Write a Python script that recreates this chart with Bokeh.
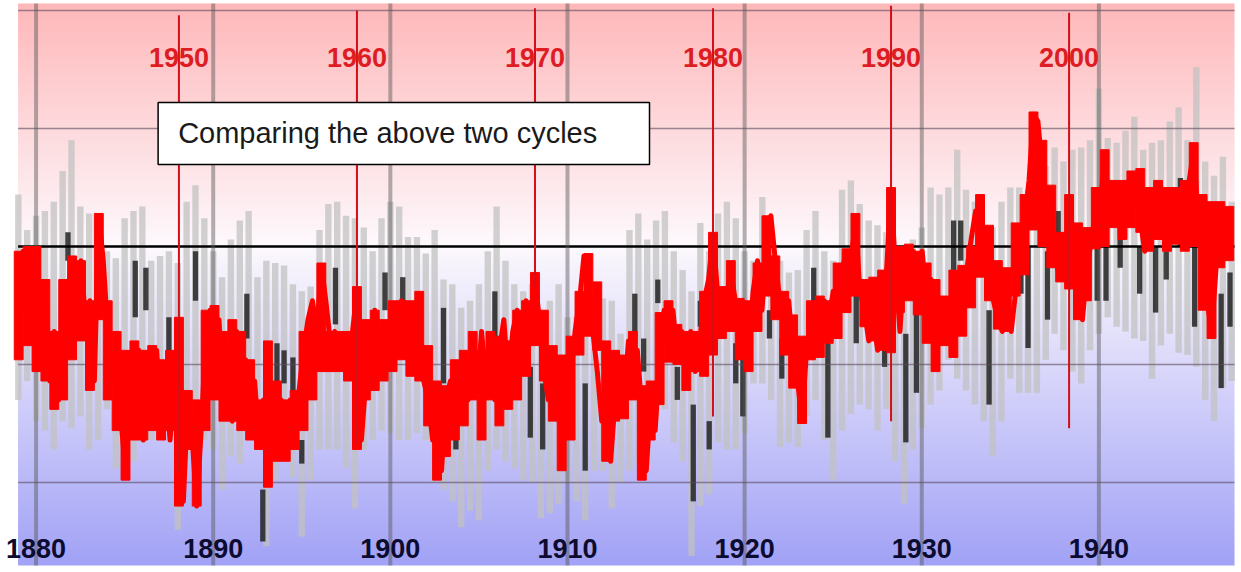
import numpy as np
from bokeh.plotting import figure
from bokeh.models import Range1d
from bokeh.embed import file_html
from bokeh.resources import INLINE
from bokeh.core.properties import value

# ---------------------------------------------------------------------------
# Data
# ---------------------------------------------------------------------------
# Earlier record (1879-1947), half-year steps: spread of the monthly values
gray_years = np.arange(1879.0, 1948.0, 0.5)
gray_hi = [
    0.22, 0.07, 0.13, 0.15, 0.19, 0.32, 0.45, 0.17, 0.14, 0.07,
    -0.02, -0.05, 0.12, 0.15, 0.17, -0.06, -0.04, -0.02, -0.07, 0.19,
    0.26, 0.12, -0.02, -0.13, 0.03, 0.11, 0.15, -0.13, -0.06, -0.07,
    -0.08, -0.16, -0.19, -0.17, 0.07, 0.18, 0.19, 0.13, 0.12, 0.08,
    -0.02, 0.12, 0.19, 0.17, 0.04, 0.04, -0.03, 0.07, -0.14, -0.16,
    -0.26, -0.23, -0.16, -0.02, 0.17, -0.06, -0.16, -0.19, -0.16, -0.30,
    -0.23, -0.16, -0.30, -0.30, -0.23, -0.20, -0.22, -0.23, -0.37, 0.07,
    0.14, 0.03, 0.11, 0.15, -0.02, -0.10, -0.19, 0.10, -0.02, 0.14,
    0.19, 0.12, -0.02, -0.06, 0.21, 0.07, -0.06, -0.11, -0.10, 0.07,
    0.15, -0.02, -0.06, 0.24, 0.28, 0.18, 0.11, 0.09, 0.06, -0.06,
    -0.13, 0.03, 0.08, 0.25, 0.22, 0.25, 0.41, 0.24, 0.19, 0.08,
    0.08, 0.19, 0.25, 0.25, 0.24, 0.19, 0.34, 0.42, 0.36, 0.41,
    0.42, 0.45, 0.67, 0.46, 0.44, 0.49, 0.55, 0.41, 0.44, 0.45,
    0.53, 0.59, 0.45, 0.76, 0.36, 0.30, 0.38, 0.19,
]
gray_lo = [
    -0.65, -0.57, -0.74, -0.78, -0.86, -0.74, -0.77, -0.72, -0.86, -0.82,
    -0.69, -0.94, -0.92, -0.91, -0.83, -0.82, -0.80, -0.75, -1.20, -0.91,
    -0.86, -0.82, -0.86, -1.03, -0.89, -0.92, -0.82, -0.81, -1.27, -0.99,
    -0.79, -0.98, -1.23, -0.99, -0.86, -0.86, -0.86, -0.94, -1.11, -0.86,
    -0.82, -0.78, -0.79, -0.82, -0.82, -0.79, -0.82, -1.00, -1.03, -1.08,
    -1.19, -1.12, -1.16, -0.95, -0.86, -0.91, -0.94, -0.99, -1.00, -1.15,
    -1.13, -1.09, -1.00, -1.08, -1.16, -0.95, -0.95, -1.11, -1.00, -0.95,
    -0.92, -0.91, -0.74, -0.69, -0.83, -0.91, -1.31, -1.10, -1.05, -0.83,
    -0.86, -0.86, -0.79, -0.58, -0.58, -0.65, -0.85, -0.83, -0.85, -0.72,
    -0.65, -0.82, -0.99, -0.78, -0.71, -0.67, -0.69, -0.78, -0.69, -0.91,
    -1.09, -0.86, -0.77, -0.67, -0.61, -0.48, -0.56, -0.61, -0.67, -0.74,
    -0.89, -0.74, -0.56, -0.62, -0.62, -0.62, -0.48, -0.37, -0.44, -0.53,
    -0.58, -0.44, -0.37, -0.30, -0.34, -0.36, -0.39, -0.40, -0.56, -0.42,
    -0.37, -0.45, -0.46, -0.51, -0.65, -0.74, -0.60, -0.57,
]

# Dense (darkest) stretches of the earlier record
dark_years = [
    1880.4, 1881.0, 1881.8, 1881.9, 1884.5, 1885.6, 1886.2, 1887.5, 1888.0,
    1889.0, 1891.9, 1892.8, 1893.6, 1894.0, 1894.5, 1895.0, 1896.9, 1899.7,
    1900.7, 1903.0, 1903.7, 1905.9, 1907.9, 1908.6, 1911.0, 1913.8, 1914.3,
    1915.1, 1916.2, 1917.1, 1917.5, 1918.0, 1919.5, 1919.9, 1921.4, 1922.1,
    1923.9, 1924.7, 1926.3, 1927.9, 1928.1, 1929.1, 1929.7, 1931.8, 1932.2,
    1933.8, 1935.6, 1936.0, 1937.1, 1937.7, 1939.9, 1940.4, 1941.2, 1942.3,
    1943.2, 1943.8, 1944.6, 1945.4, 1946.9, 1947.4,
]
dark_hi = [
    -0.19, -0.58, 0.06, -0.39, -0.36, -0.06, -0.09, -0.30, -0.37,
    -0.02, -0.20, -1.03, -0.41, -0.44, -0.47, -0.82, -0.09, -0.11,
    -0.13, -0.26, -0.77, -0.19, -0.51, -0.58, -0.58, -0.20, -0.39,
    -0.14, -0.51, -0.67, -0.23, -0.74, -0.41, -0.44, -0.27, -0.39,
    -0.09, -0.39, -0.20, -0.37, -0.20, -0.37, -0.20, 0.11, 0.11,
    -0.27, 0.00, 0.00, -0.02, 0.15, 0.07, 0.00, 0.12, 0.00,
    0.00, -0.02, 0.29, 0.08, -0.20, -0.11,
]
dark_lo = [
    -0.30, -0.69, -0.06, -0.47, -0.47, -0.30, -0.27, -0.47, -0.51,
    -0.23, -0.39, -1.25, -0.58, -0.58, -0.62, -0.92, -0.33, -0.27,
    -0.30, -0.58, -0.86, -0.39, -0.81, -0.86, -0.95, -0.39, -0.53,
    -0.24, -0.65, -1.08, -0.34, -0.86, -0.58, -0.72, -0.39, -0.56,
    -0.24, -0.81, -0.41, -0.51, -0.43, -0.83, -0.62, -0.20, -0.06,
    -0.67, -0.20, -0.43, -0.31, -0.06, -0.23, -0.23, -0.09, -0.20,
    -0.28, -0.14, 0.00, -0.34, -0.60, -0.34,
]

# Recent record (1941-2009): half-year spread of the monthly values
red_band_years = np.arange(1941.0, 2009.01, 0.5)
red_hi = [
    -0.02, 0.00,  0.00, -0.14,  -0.36, -0.14,  -0.04, -0.06,  -0.23, 0.14,   # 1941-45
    -0.23, -0.36,  -0.44, -0.40,  -0.44, -0.42,  -0.48, -0.44,  -0.30, -0.61,  # 1946-50
    -0.65, -0.27,  -0.25, -0.36,  -0.31, -0.36,  -0.48, -0.65,  -0.40, -0.57,  # 1951-55
    -0.65, -0.61,  -0.36, -0.29,  -0.07, -0.36,  -0.36, -0.36,  -0.17, -0.31,  # 1956-60
    -0.27, -0.31,  -0.23, -0.23,  -0.23, -0.19,  -0.42, -0.57,  -0.59, -0.48,  # 1961-65
    -0.44, -0.36,  -0.44, -0.36,  -0.38, -0.40,  -0.27, -0.23,  -0.11, -0.27,  # 1966-70
    -0.42, -0.46,  -0.38, -0.19,  -0.03, -0.15,  -0.40, -0.44,  -0.46, -0.36,  # 1971-75
    -0.59, -0.57,  -0.28, -0.23,  -0.33, -0.36,  -0.36, -0.19,  0.06, -0.17,   # 1976-80
    -0.06, -0.22,  -0.23, -0.07,  0.13, -0.04,   -0.19, -0.29,  -0.38, -0.23,  # 1981-85
    -0.21, -0.23,  -0.07, -0.01,  0.14, -0.14,   -0.13, -0.10,  0.25, 0.00,    # 1986-90
    0.01, -0.02,   -0.07, -0.14,  -0.21, -0.10,  -0.08, 0.00,   0.22, 0.09,    # 1991-95
    -0.06, -0.09,  0.10, 0.22,    0.57, 0.45,    0.26, 0.06,    0.22, 0.10,    # 1996-2000
    0.08, 0.25,    0.41, 0.28,    0.28, 0.32,    0.33, 0.25,    0.28, 0.25,    # 2001-05
    0.25, 0.28,    0.44, 0.22,    0.19, 0.19,    0.17,                         # 2006-09
]
red_lo = [
    -0.48, -0.42,  -0.53, -0.57,  -0.69, -0.65,  -0.48, -0.40,  -0.61, -0.31,  # 1941-45
    -0.65, -0.78,  -0.99, -0.82,  -0.82, -0.78,  -0.82, -0.78,  -1.10, -0.86,  # 1946-50
    -1.10, -0.78,  -0.65, -0.74,  -0.74, -0.78,  -0.82, -0.86,  -1.02, -0.91,  # 1951-55
    -0.91, -0.86,  -0.78, -0.65,  -0.53, -0.53,  -0.53, -0.57,  -0.86, -0.65,  # 1956-60
    -0.61, -0.57,  -0.53, -0.48,  -0.55, -0.57,  -0.76, -0.99,  -0.89, -0.82,  # 1961-65
    -0.76, -0.65,  -0.82, -0.65,  -0.76, -0.69,  -0.65, -0.55,  -0.42, -0.57,  # 1966-70
    -0.74, -0.95,  -0.82, -0.46,  -0.38, -0.44,  -0.91, -0.74,  -0.73, -0.65,  # 1971-75
    -0.99, -0.82,  -0.67, -0.49,  -0.50, -0.61,  -0.53, -0.55,  -0.46, -0.39,  # 1976-80
    -0.36, -0.48,  -0.53, -0.36,  -0.21, -0.31,  -0.46, -0.60,  -0.75, -0.48,  # 1981-85
    -0.47, -0.41,  -0.39, -0.28,  -0.21, -0.34,  -0.40, -0.44,  -0.45, -0.28,  # 1986-90
    -0.23, -0.29,  -0.41, -0.53,  -0.42, -0.47,  -0.38, -0.26,  -0.13, -0.23,  # 1991-95
    -0.35, -0.36,  -0.21, -0.12,  0.07, 0.00,    -0.09, -0.15,  -0.18, -0.31,  # 1996-2000
    -0.23, -0.01,  0.00, 0.08,    0.03, 0.08,    0.06, -0.02,   0.03, -0.02,   # 2001-05
    0.01, -0.02,   0.00, -0.27,   -0.39, -0.09,  -0.06,                        # 2006-09
]

# Recent record (1941-2009), quarter-year readings
red_years = np.arange(1941.0, 2009.01, 0.25)
red_vals = [
    -0.23, -0.02, -0.36, -0.10,  -0.02, -0.40, -0.23, -0.57,  # 1941-42
    -0.36, -0.65, -0.44, -0.19,  -0.06, -0.36, -0.06, -0.31,  # 1943-44
    -0.23, -0.57, 0.13, -0.06,   -0.36, -0.57, -0.48, -0.74,  # 1945-46
    -0.95, -0.57, -0.74, -0.44,  -0.82, -0.48, -0.69, -0.44,  # 1947-48
    -0.74, -0.53, -0.82, -0.61,  -0.31, -1.08, -0.65, -0.82,  # 1949-50
    -1.10, -0.78, -0.40, -0.27,  -0.44, -0.31, -0.65, -0.48,  # 1951-52
    -0.74, -0.36, -0.65, -0.48,  -0.74, -0.57, -0.82, -0.65,  # 1953-54
    -0.91, -0.69, -0.82, -0.65,  -0.78, -0.65, -0.82, -0.61,  # 1955-56
    -0.44, -0.31, -0.23, -0.36,  -0.08, -0.23, -0.40, -0.36,  # 1957-58
    -0.48, -0.40, -0.48, -0.36,  -0.19, -0.82, -0.57, -0.36,  # 1959-60
    -0.27, -0.53, -0.36, -0.48,  -0.27, -0.40, -0.23, -0.40,  # 1961-62
    -0.27, -0.48, -0.36, -0.57,  -0.65, -0.82, -0.74, -0.95,  # 1963-64
    -0.65, -0.57, -0.74, -0.53,  -0.48, -0.65, -0.44, -0.61,  # 1965-66
    -0.36, -0.57, -0.40, -0.65,  -0.44, -0.31, -0.57, -0.36,  # 1967-68
    -0.27, -0.44, -0.23, -0.40,  -0.14, -0.31, -0.53, -0.65,  # 1969-70
    -0.48, -0.69, -0.53, -0.78,  -0.57, -0.36, -0.23, -0.04,  # 1971-72
    -0.19, -0.36, -0.53, -0.74,  -0.57, -0.91, -0.65, -0.48,  # 1973-74
    -0.65, -0.40, -0.57, -0.44,  -0.69, -0.95, -0.65, -0.78,  # 1975-76
    -0.48, -0.27, -0.44, -0.27,  -0.48, -0.36, -0.53, -0.36,  # 1977-78
    -0.53, -0.40, -0.23, -0.14,  0.05, -0.19, -0.36, -0.23,   # 1979-80
    -0.10, -0.23, -0.40, -0.27,  -0.44, -0.19, -0.06, -0.27,  # 1981-82
    -0.02, 0.13, -0.06, -0.23,   -0.36, -0.23, -0.44, -0.57,  # 1983-84
    -0.74, -0.44, -0.31, -0.27,  -0.40, -0.23, -0.31, -0.19,  # 1985-86
    -0.23, -0.10, -0.02, -0.06,  0.11, -0.19, -0.27, -0.40,   # 1987-88
    -0.31, -0.44, -0.23, -0.10,  0.24, -0.10, -0.36, -0.06,   # 1989-90
    -0.19, -0.02, -0.14, -0.02,  -0.23, -0.14, -0.36, -0.23,  # 1991-92
    -0.40, -0.27, -0.40, -0.23,  -0.19, -0.10, 0.03, 0.15,    # 1993-94
    0.07, -0.10, -0.14, -0.23,   -0.31, -0.36, -0.23, -0.36,  # 1995-96
    -0.19, -0.02, 0.11, 0.28,    0.56, 0.53, 0.32, 0.19,      # 1997-98
    0.07, -0.06, -0.14, -0.10,   0.20, -0.15, -0.02, -0.31,   # 1999-2000
    -0.10, 0.03, 0.15, 0.19,     0.36, 0.19, 0.11, 0.24,      # 2001-02
    0.07, 0.24, 0.19, 0.28,      0.11, -0.02, 0.19, 0.07,     # 2003-04
    0.24, 0.15, 0.03, 0.19,      0.07, 0.15, 0.03, 0.28,      # 2005-06
    0.41, 0.11, -0.06, -0.23,    -0.36, -0.10, 0.07, 0.15,    # 2007-08
    0.03,                                                     # 2009
]

old_decades = [1880, 1890, 1900, 1910, 1920, 1930, 1940]
old_labels = ["1880", "1890", "1900", "1910", "1920", "1930", "1940"]
new_decades = [1950, 1960, 1970, 1980, 1990, 2000]
new_labels = ["1950", "1960", "1970", "1980", "1990", "2000"]
new_marker_top = [0.98, 1.00, 1.01, 1.01, 1.02, 0.99]
new_marker_bottom = [-0.95, -0.84, -0.17, -0.72, -0.74, -0.77]

ref_levels = [1.0, 0.5, -0.5, -1.0]
note_text = "Comparing the above two cycles"

# ---------------------------------------------------------------------------
# Figure
# ---------------------------------------------------------------------------
X0, X1 = 1877.992, 1948.05     # earlier-record time axis (whole canvas)
R0, R1 = 1939.978, 2009.685    # recent-record time axis (shifted overlay)
Y0, Y1 = -1.3814, 1.0424
PX0, PX1 = 1878.984, 1947.656  # shaded panel extent
PY0, PY1 = -1.3517, 1.0297

p = figure(width=1241, height=572,
           x_range=Range1d(X0, X1), y_range=Range1d(Y0, Y1),
           output_backend="svg", toolbar_location=None,
           x_axis_location=None, y_axis_location=None,
           min_border_left=0, min_border_right=0,
           min_border_top=0, min_border_bottom=0,
           background_fill_color="white", border_fill_color="white",
           outline_line_color=None)
p.extra_x_ranges = {"recent": Range1d(R0, R1)}
p.grid.visible = False

# warm-to-cool vertical background wash
rows = 562
t = np.linspace(0.0, 1.0, rows)
stops = [0.0, 0.568, 1.0]
rch = np.interp(t, stops, [162, 253, 255])
gch = np.interp(t, stops, [162, 249, 184])
bch = np.interp(t, stops, [246, 253, 186])
bg = np.empty((rows, 1), dtype=np.uint32)
view = bg.view(dtype=np.uint8).reshape((rows, 1, 4))
view[:, 0, 0] = rch.astype(np.uint8)
view[:, 0, 1] = gch.astype(np.uint8)
view[:, 0, 2] = bch.astype(np.uint8)
view[:, 0, 3] = 255
p.image_rgba(image=[bg], x=PX0, y=PY0, dw=PX1 - PX0, dh=PY1 - PY0)

# earlier record: light spread + dark cores
p.vbar(x=gray_years, top=gray_hi, bottom=gray_lo, width=0.36,
       fill_color="#c2c2c2", fill_alpha=0.75, line_color=None)
p.vbar(x=dark_years, top=dark_hi, bottom=dark_lo, width=0.3,
       fill_color="#222222", fill_alpha=0.85, line_color=None)

# reference levels and decade grid
p.segment(x0=PX0, x1=PX1, y0=ref_levels, y1=ref_levels,
          line_color="#5a4a5a", line_alpha=0.6, line_width=1.5)
p.segment(x0=PX0, x1=PX1, y0=0.0, y1=0.0, line_color="black", line_width=2.5)
p.segment(x0=old_decades, x1=old_decades, y0=PY0, y1=PY1,
          line_color="#555555", line_alpha=0.45, line_width=4)

# recent record overlay: half-year spread blocks + quarter-year trace
p.vbar(x=red_band_years, top=red_hi, bottom=red_lo, width=0.5,
       x_range_name="recent", fill_color="#ff0000", line_color="#ff0000",
       line_width=1)
p.line(x=red_years, y=red_vals, x_range_name="recent",
       line_color="#ff0000", line_width=5, line_join="round")
p.segment(x0=new_decades, x1=new_decades, y0=new_marker_top, y1=new_marker_bottom,
          x_range_name="recent", line_color="#d40f18", line_width=2)

# decade labels
p.text(x=new_decades, y=[0.80] * len(new_decades), text=new_labels,
       x_range_name="recent", text_align="center", text_baseline="middle",
       text_font=value("Liberation Sans"), text_font_style="bold",
       text_font_size="27px", text_color="#dd1c24")
p.text(x=old_decades, y=[-1.28] * len(old_decades), text=old_labels,
       text_align="center", text_baseline="middle",
       text_font=value("Liberation Sans"), text_font_style="bold",
       text_font_size="27px", text_color="#0c0c30")

# note box
p.quad(left=1886.89, right=1914.63, top=0.610, bottom=0.347,
       fill_color="white", line_color="black", line_width=1.5)
p.text(x=[1888.02], y=[0.479], text=[note_text],
       text_align="left", text_baseline="middle",
       text_font=value("Liberation Sans"), text_font_size="29px",
       text_color="#1a1a1a")

open("out.html", "w").write(file_html(p, INLINE))
